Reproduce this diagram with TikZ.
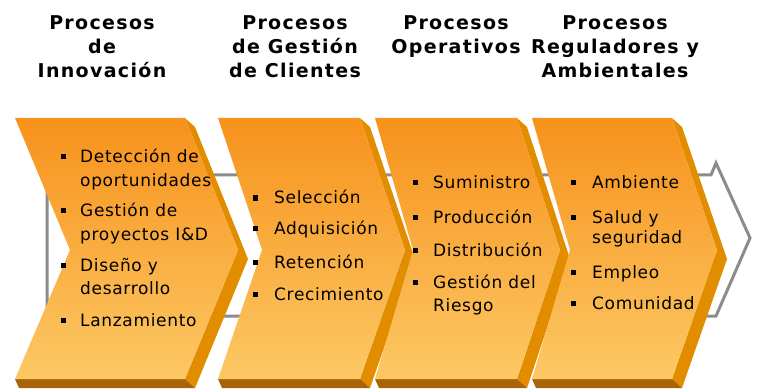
\documentclass[tikz,border=0pt]{standalone}
\usepackage{fontspec}
\setmainfont{DejaVu Sans}
\newfontfamily\headfont{DejaVu Sans}[LetterSpace=7]
\newfontfamily\itemfont{DejaVu Sans}[LetterSpace=4]
\definecolor{oTop}{RGB}{247,146,28}
\definecolor{oBot}{RGB}{252,200,100}
\definecolor{oBand}{RGB}{226,140,0}
\definecolor{oStrip}{RGB}{168,100,8}
\definecolor{arrowgray}{RGB}{140,140,140}
\newcommand\mychev[4]{% L R notch tip
  \fill[oBand] (#2,118) -- ({#2+10},127) -- ({#4+10},259) -- ({#2+10},388) -- (#2,379) -- (#4,250) -- cycle;
  \fill[oStrip] (#1,379) -- (#2,379) -- ({#2+10},388) -- ({#1+4},388) -- cycle;
  \shade[top color=oTop,bottom color=oBot] (#1,118) -- (#2,118) -- (#4,250) -- (#2,379) -- (#1,379) -- (#3,250) -- cycle;
}
\tikzset{
  head/.style={font=\headfont\fontsize{19}{24}\selectfont\bfseries, anchor=base, inner sep=0pt},
  item/.style={font=\itemfont\fontsize{17}{20}\selectfont, anchor=base west, inner sep=0pt},
  bul/.style={fill=black, minimum size=5pt, inner sep=0pt},
  grayline/.style={draw=arrowgray, line width=3pt, line join=miter}
}
\begin{document}
\begin{tikzpicture}[x=1pt,y=-1pt]
\useasboundingbox (0,0) rectangle (757,390);
% background gray arrow
\draw[grayline] (47,175) -- (711,175) -- (716,163) -- (750,238) -- (716,316) -- (47,316) -- cycle;
% chevrons
\mychev{15}{185}{70}{238}
\mychev{218}{360}{262}{405}
\mychev{375}{517}{413}{560}
\mychev{532}{672}{570}{717}
% headers
\node[head] (h1a) at (102,30) {Procesos};
\node[head] (h1b) at (102,54) {de};
\node[head] (h1c) at (102,78) {Innovación};
\node[head] (h2a) at (295,30) {Procesos};
\node[head] (h2b) at (295,54) {de Gestión};
\node[head] (h2c) at (295,78) {de Clientes};
\node[head] (h3a) at (456,30) {Procesos};
\node[head] (h3b) at (456,54) {Operativos};
\node[head] (h4a) at (615,30) {Procesos};
\node[head] (h4b) at (615,54) {Reguladores y};
\node[head] (h4c) at (615,78) {Ambientales};
% column 1
\node[bul] (b11) at (63,157) {};
\node[bul] (b12) at (63,210) {};
\node[bul] (b13) at (63,265) {};
\node[bul] (b14) at (63,320) {};
\node[item] (t11a) at (80,163) {Detección de};
\node[item] (t11b) at (80,186) {oportunidades};
\node[item] (t12a) at (80,216) {Gestión de};
\node[item] (t12b) at (80,240) {proyectos I\&D};
\node[item] (t13a) at (80,271) {Diseño y};
\node[item] (t13b) at (80,294) {desarrollo};
\node[item] (t14a) at (80,326) {Lanzamiento};
% column 2
\node[bul] (b21) at (255,198) {};
\node[bul] (b22) at (255,228) {};
\node[bul] (b23) at (255,262) {};
\node[bul] (b24) at (255,294) {};
\node[item] (t21) at (274,204) {Selección};
\node[item] (t22) at (274,234) {Adquisición};
\node[item] (t23) at (274,268) {Retención};
\node[item] (t24) at (274,300) {Crecimiento};
% column 3
\node[bul] (b31) at (415,183) {};
\node[bul] (b32) at (415,217) {};
\node[bul] (b33) at (415,250) {};
\node[bul] (b34) at (415,282) {};
\node[item] (t31) at (433,189) {Suministro};
\node[item] (t32) at (433,223) {Producción};
\node[item] (t33) at (433,256) {Distribución};
\node[item] (t34a) at (433,288) {Gestión del};
\node[item] (t34b) at (433,311) {Riesgo};
% column 4
\node[bul] (b41) at (573,183) {};
\node[bul] (b42) at (573,217) {};
\node[bul] (b43) at (573,272) {};
\node[bul] (b44) at (573,303) {};
\node[item] (t41) at (592,189) {Ambiente};
\node[item] (t42a) at (592,223) {Salud y};
\node[item] (t42b) at (592,243) {seguridad};
\node[item] (t43) at (592,278) {Empleo};
\node[item] (t44) at (592,309) {Comunidad};
\end{tikzpicture}
\end{document}
